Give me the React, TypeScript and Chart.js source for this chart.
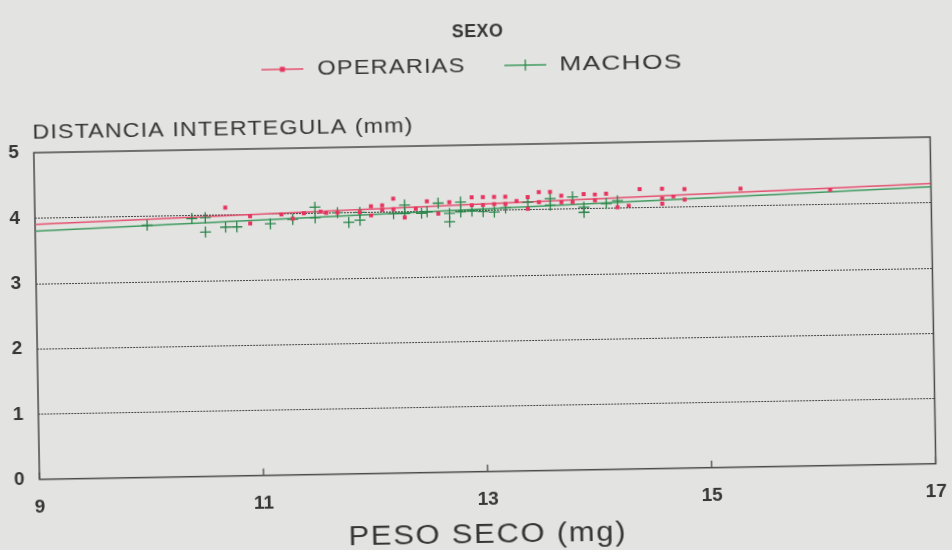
import React, { useEffect, useRef } from "react";
import { Chart, registerables } from "chart.js";

Chart.register(...registerables);

// ---------- data ----------
const X_MIN = 9;
const X_MAX = 17;
const X_STEP = 2;
const Y_MIN = 0;
const Y_MAX = 5;
const Y_STEP = 1;

const seriesNames = ["OPERARIAS", "MACHOS"];
const legendTitle = "SEXO";
const xTitle = "PESO SECO (mg)";
const yTitle = "DISTANCIA INTERTEGULA (mm)";

const operariasX = [
  10.7, 10.92, 10.92, 11.2, 11.3, 11.4, 11.55, 11.6, 11.7, 11.9,
  12.0, 12.0, 12.1, 12.1, 12.2, 12.2, 12.3, 12.4, 12.5, 12.6,
  12.7, 12.9, 12.9, 13.0, 13.0, 13.1, 13.1, 13.2, 13.2, 13.3,
  13.4, 13.4, 13.5, 13.5, 13.6, 13.7, 13.7, 13.8, 13.9, 14.0,
  14.0, 14.1, 14.2, 14.3, 14.4, 14.6, 14.6, 14.6, 14.7, 14.8,
  14.8, 15.3, 16.1,
];
const operariasY = [
  4.11, 3.97, 3.86, 3.99, 3.92, 4.0, 4.02, 4.0, 4.0, 4.0,
  4.09, 3.95, 4.1, 4.03, 4.2, 4.04, 3.91, 4.04, 4.15, 3.96,
  4.13, 4.2, 4.08, 4.2, 4.08, 4.2, 4.09, 4.2, 4.09, 4.13,
  4.19, 4.01, 4.26, 4.11, 4.26, 4.2, 4.1, 4.1, 4.22, 4.21,
  4.12, 4.22, 4.01, 4.03, 4.28, 4.28, 4.13, 4.05, 4.16, 4.27,
  4.11, 4.26, 4.22,
];

const machosX = [
  10.0, 10.4, 10.52, 10.52, 10.7, 10.8, 11.1, 11.3, 11.5, 11.5,
  11.7, 11.8, 11.9, 11.9, 12.2, 12.3, 12.3, 12.45, 12.5, 12.6,
  12.7, 12.7, 12.8, 12.8, 12.9, 13.0, 13.1, 13.2, 13.4, 13.6,
  13.6, 13.8, 13.9, 13.9, 14.1, 14.2,
];
const machosY = [
  3.86, 3.95, 3.96, 3.74, 3.81, 3.81, 3.85, 3.91, 4.09, 3.93,
  4.0, 3.85, 4.0, 3.88, 3.97, 4.1, 3.97, 3.97, 3.99, 4.12,
  3.96, 3.83, 4.13, 3.98, 3.99, 3.98, 3.97, 4.03, 4.11, 4.16,
  4.06, 4.18, 4.02, 3.94, 4.07, 4.11,
];

// fitted lines (end points)
const operariasFitX = [9, 17];
const operariasFitY = [3.9, 4.29];
const machosFitX = [9, 17];
const machosFitY = [3.8, 4.24];

// ---------- style ----------
const PAPER = "#e3e3e1";
const INK = "#363636";
const RED = "#e6345f";
const RED_LINE = "#e4506f";
const GREEN = "#2a8549";
const GREEN_LINE = "#3f9a5f";
const FAMILY = "'Liberation Sans', Arial, Helvetica, sans-serif";

const toPoints = (xs: number[], ys: number[]) => xs.map((x, i) => ({ x, y: ys[i] }));

// draws text in an "extended" face: glyphs stretched horizontally to a target width
function drawWide(
  ctx: CanvasRenderingContext2D,
  text: string,
  left: number,
  yMid: number,
  targetWidth: number,
  font: string,
  color: string,
  spacing = 1
) {
  ctx.save();
  ctx.font = font;
  (ctx as any).letterSpacing = spacing + "px";
  const w = ctx.measureText(text).width - spacing;
  const sx = Math.max(0.7, Math.min(1.6, targetWidth / w));
  ctx.fillStyle = color;
  ctx.textAlign = "left";
  ctx.textBaseline = "middle";
  ctx.translate(left, yMid);
  ctx.scale(sx, 1);
  ctx.fillText(text, 0, 0);
  ctx.restore();
}

const decorPlugin = {
  id: "decor",
  beforeDatasetsDraw(chart: any) {
    const { ctx, chartArea: a, scales } = chart;
    const x = scales.x;
    const y = scales.y;
    ctx.save();
    // dotted grid lines
    ctx.strokeStyle = "#444444";
    ctx.lineWidth = 1;
    ctx.setLineDash([2, 1]);
    y.ticks.forEach((t: any) => {
      if (t.value > Y_MIN && t.value < Y_MAX) {
        const py = Math.round(y.getPixelForValue(t.value)) + 0.5;
        ctx.beginPath();
        ctx.moveTo(a.left, py);
        ctx.lineTo(a.right, py);
        ctx.stroke();
      }
    });
    ctx.setLineDash([]);
    // frame
    ctx.strokeStyle = "#4a4a4a";
    ctx.lineWidth = 1.5;
    ctx.strokeRect(a.left, a.top, a.right - a.left, a.bottom - a.top);
    // inward x tick marks
    ctx.lineWidth = 1.3;
    x.ticks.forEach((t: any) => {
      const px = x.getPixelForValue(t.value);
      ctx.beginPath();
      ctx.moveTo(px, a.bottom);
      ctx.lineTo(px, a.bottom - 7);
      ctx.stroke();
    });
    ctx.restore();
  },
  afterDraw(chart: any) {
    const { ctx } = chart;
    // legend title
    drawWide(ctx, legendTitle, 456, 32, 51, `bold 18px ${FAMILY}`, INK, 0.5);
    // legend entries
    const entries = [
      { name: seriesNames[0], lx: 265, tx: 321, tw: 147, color: RED_LINE, mark: "dot" },
      { name: seriesNames[1], lx: 508, tx: 563, tw: 122, color: GREEN_LINE, mark: "cross" },
    ];
    const ly = 66;
    entries.forEach((e) => {
      ctx.save();
      ctx.strokeStyle = e.color;
      ctx.lineWidth = 1.5;
      ctx.beginPath();
      ctx.moveTo(e.lx, ly);
      ctx.lineTo(e.lx + 42, ly);
      ctx.stroke();
      const cx = e.lx + 21;
      if (e.mark === "dot") {
        ctx.fillStyle = RED;
        ctx.fillRect(cx - 2.5, ly - 2.5, 5, 5);
      } else {
        ctx.strokeStyle = GREEN;
        ctx.lineWidth = 1.3;
        ctx.beginPath();
        ctx.moveTo(cx, ly - 5.5);
        ctx.lineTo(cx, ly + 5.5);
        ctx.stroke();
      }
      ctx.restore();
      drawWide(ctx, e.name, e.tx, ly, e.tw, `21px ${FAMILY}`, INK, 1);
    });
    // axis titles
    drawWide(ctx, yTitle, 35, 125, 380, `21px ${FAMILY}`, INK, 1);
    drawWide(ctx, xTitle, 344, 536, 277, `27px ${FAMILY}`, INK, 1.5);
  },
};

export default function App() {
  const ref = useRef<HTMLCanvasElement | null>(null);

  useEffect(() => {
    document.body.style.margin = "0";
    document.body.style.background = PAPER;
    const canvas = ref.current;
    if (!canvas) return;
    const tickFont = { family: FAMILY, size: 19, weight: "bold" as const };
    const chart = new Chart(canvas, {
      type: "scatter",
      data: {
        datasets: [
          {
            label: seriesNames[0],
            data: toPoints(operariasX, operariasY),
            backgroundColor: RED,
            borderColor: RED,
            borderWidth: 0,
            pointStyle: "rect",
            pointRadius: 2.8,
            order: 1,
          },
          {
            label: seriesNames[1],
            data: toPoints(machosX, machosY),
            backgroundColor: GREEN,
            borderColor: GREEN,
            borderWidth: 1.3,
            pointStyle: "cross",
            pointRadius: 5.5,
            order: 2,
          },
          {
            type: "line" as const,
            label: seriesNames[0] + " fit",
            data: toPoints(operariasFitX, operariasFitY),
            borderColor: RED_LINE,
            borderWidth: 1.5,
            pointRadius: 0,
            fill: false,
            order: 3,
          },
          {
            type: "line" as const,
            label: seriesNames[1] + " fit",
            data: toPoints(machosFitX, machosFitY),
            borderColor: GREEN_LINE,
            borderWidth: 1.5,
            pointRadius: 0,
            fill: false,
            order: 4,
          },
        ] as any,
      },
      options: {
        animation: false,
        responsive: false,
        devicePixelRatio: 1,
        events: [],
        layout: { padding: { top: 145, right: 17.5, bottom: 0, left: 0 } },
        plugins: {
          legend: { display: false },
          title: { display: false },
          tooltip: { enabled: false },
        },
        scales: {
          x: {
            type: "linear",
            min: X_MIN,
            max: X_MAX,
            ticks: { stepSize: X_STEP, font: tickFont, color: INK, padding: 9 },
            grid: { display: false },
            border: { display: false },
            afterFit: (s: any) => {
              s.height = 78.3;
            },
          },
          y: {
            type: "linear",
            min: Y_MIN,
            max: Y_MAX,
            ticks: { stepSize: Y_STEP, font: tickFont, color: INK, padding: 7 },
            grid: { display: false },
            border: { display: false },
            afterFit: (s: any) => {
              s.width = 36;
            },
          },
        },
      },
      plugins: [decorPlugin],
    });
    return () => chart.destroy();
  }, []);

  return (
    <div
      style={{
        position: "fixed",
        left: 0,
        top: 0,
        width: 952,
        height: 550,
        background: PAPER,
        overflow: "hidden",
      }}
    >
      <div style={{ width: 952, height: 550, transform: "rotate(-1deg)", transformOrigin: "476px 275px" }}>
        <canvas ref={ref} width={952} height={550} style={{ display: "block", width: 952, height: 550 }} />
      </div>
    </div>
  );
}
